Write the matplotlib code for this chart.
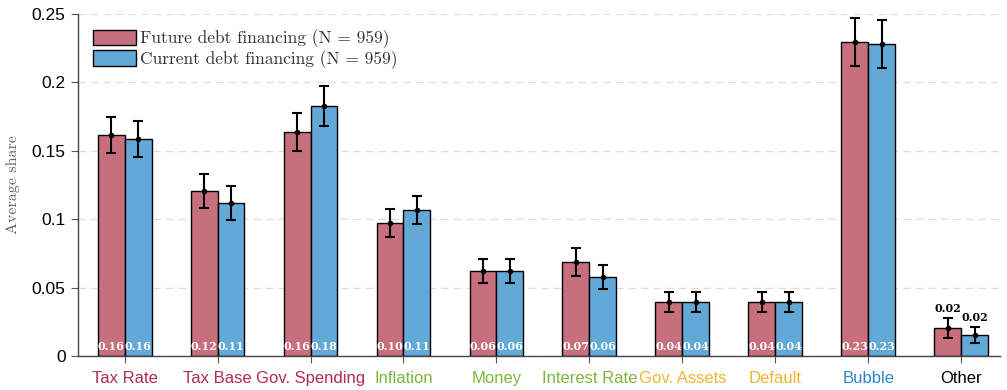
import numpy as np
import matplotlib
matplotlib.use("Agg")
import matplotlib.pyplot as plt

categories = ["Tax Rate", "Tax Base", "Gov. Spending", "Inflation", "Money",
              "Interest Rate", "Gov. Assets", "Default", "Bubble", "Other"]
future_mean = [0.1615, 0.1206, 0.1637, 0.0972, 0.0621, 0.0687, 0.0395, 0.0395, 0.2295, 0.0205]
future_err = [0.0133, 0.0124, 0.0140, 0.0102, 0.0090, 0.0099, 0.0070, 0.0070, 0.0175, 0.0070]
current_mean = [0.1586, 0.1118, 0.1827, 0.1067, 0.0621, 0.0577, 0.0395, 0.0395, 0.2280, 0.0154]
current_err = [0.0130, 0.0124, 0.0146, 0.0102, 0.0090, 0.0090, 0.0070, 0.0070, 0.0175, 0.0060]
label_colors = ["#B22A4F", "#B22A4F", "#B22A4F", "#7DB63C", "#7DB63C",
                "#7DB63C", "#F0B531", "#F0B531", "#2C86C9", "#000000"]
series_labels = ["Future debt financing (N = 959)", "Current debt financing (N = 959)"]

c_future = "#C86F7E"
c_current = "#62A9D7"

fig = plt.figure(figsize=(10.07, 3.9), dpi=100)
ax = fig.add_axes([0.0775, 0.0872, 0.916, 0.877])

x = np.arange(len(categories))
w = 0.29
serif = "cmr10"

for off, means, errs, col, lab in [(-w / 2, future_mean, future_err, c_future, series_labels[0]),
                                     (w / 2, current_mean, current_err, c_current, series_labels[1])]:
    ax.bar(x + off, means, width=w, color=col, edgecolor="black", linewidth=1.0,
           label=lab, zorder=2)
    ax.errorbar(x + off, means, yerr=errs, fmt="o", color="black", markersize=3,
                elinewidth=1.5, capsize=3.5, capthick=1.5, zorder=3)
    for i, (m, e) in enumerate(zip(means, errs)):
        txt = f"{m:.2f}"
        if categories[i] == "Other":
            ax.text(x[i] + off, m + e + 0.003, txt, ha="center", va="bottom",
                    fontsize=8, fontweight="bold", family="DejaVu Serif", color="black", zorder=4)
        else:
            ax.text(x[i] + off, 0.0068, txt, ha="center", va="center",
                    fontsize=8, fontweight="bold", family="DejaVu Serif", color="white", zorder=4)

ax.set_xlim(-0.5, 9.42)
ax.set_ylim(0, 0.25)
ax.set_yticks([0, 0.05, 0.1, 0.15, 0.2, 0.25])
ax.set_yticklabels(["0", "0.05", "0.1", "0.15", "0.2", "0.25"])
ax.set_xticks(x)
ax.set_xticklabels(categories)
for t, c in zip(ax.get_xticklabels(), label_colors):
    t.set_color(c)
ax.tick_params(axis="both", labelsize=12.5, direction="out", color="#555555")
ax.tick_params(axis="y", length=5, pad=4)
ax.tick_params(axis="x", length=5, pad=6, labelsize=12)
for lbl in ax.get_xticklabels() + ax.get_yticklabels():
    lbl.set_family("Liberation Sans")

ax.grid(axis="y", linestyle=(0, (6, 4)), color="#DDDDDD", linewidth=0.9, zorder=0)
ax.set_axisbelow(True)
for s in ["top", "right"]:
    ax.spines[s].set_visible(False)
for s in ["left", "bottom"]:
    ax.spines[s].set_color("#444444")
    ax.spines[s].set_linewidth(1.0)

ax.set_ylabel("Average share", family=serif, fontsize=11.5, color="#666666", labelpad=8)

leg = ax.legend(loc="upper left", bbox_to_anchor=(0.005, 0.985), frameon=False,
                prop={"family": serif, "size": 12.5}, handlelength=2.5, handleheight=1.0,
                handletextpad=0.2, labelspacing=0.12, borderaxespad=0.2)
for t in leg.get_texts():
    t.set_color("#333333")

fig.savefig("out.png", dpi=100)
